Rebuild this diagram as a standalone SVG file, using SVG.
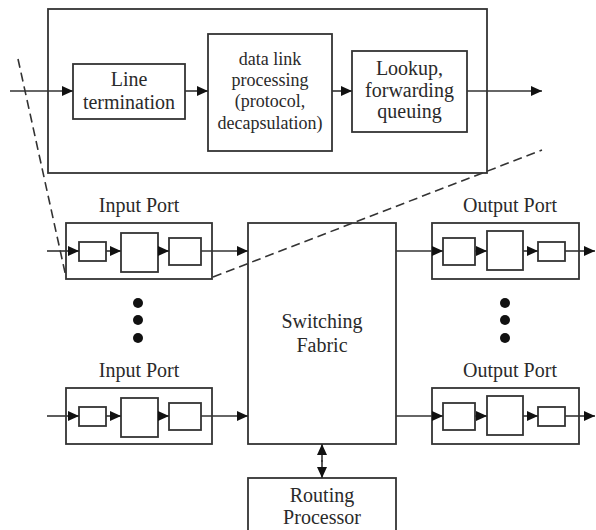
<svg xmlns="http://www.w3.org/2000/svg" width="596" height="530" viewBox="0 0 596 530">
<style>
.b{fill:#fff;stroke:#333;stroke-width:1.8}
.c{fill:none;stroke:#333;stroke-width:1.6}
.d{fill:none;stroke:#333;stroke-width:1.6;stroke-dasharray:9 5}
text{font-family:"Liberation Serif","Times New Roman",serif;font-size:20px;fill:#2a2a2a;text-anchor:middle}
.s{font-size:18px}
.dot{fill:#111}
</style>
<defs>
<marker id="ah" markerUnits="userSpaceOnUse" markerWidth="12" markerHeight="10" refX="11" refY="5" orient="auto">
<path d="M0,0 L11,5 L0,10 z" fill="#111"/>
</marker>
</defs>
<rect width="596" height="530" fill="#fff"/>

<g id="detail-box">
<rect class="b" x="48" y="9" width="439" height="164"/>
</g>
<g id="line-termination">
<rect class="b" x="73" y="64" width="112" height="55"/>
<text x="129" y="86">Line</text>
<text x="129" y="109">termination</text>
</g>
<g id="data-link">
<rect class="b" x="208" y="34" width="124" height="117"/>
<text class="s" x="270" y="65">data link</text>
<text class="s" x="270" y="86">processing</text>
<text class="s" x="270" y="107">(protocol,</text>
<text class="s" x="270" y="129">decapsulation)</text>
</g>
<g id="lookup">
<rect class="b" x="352" y="51" width="115" height="81"/>
<text x="409.5" y="75">Lookup,</text>
<text x="409.5" y="97">forwarding</text>
<text x="409.5" y="118">queuing</text>
</g>

<g id="input-port-1">
<text x="139" y="212">Input Port</text>
<rect class="b" x="66" y="223" width="146" height="56"/>
<rect class="b" x="79" y="242" width="27" height="19"/>
<rect class="b" x="121" y="233" width="37" height="39"/>
<rect class="b" x="169" y="238" width="32" height="27"/>
</g>
<g id="input-port-2">
<text x="139" y="377">Input Port</text>
<rect class="b" x="66" y="388" width="146" height="56"/>
<rect class="b" x="79" y="407" width="27" height="19"/>
<rect class="b" x="121" y="398" width="37" height="39"/>
<rect class="b" x="169" y="403" width="32" height="27"/>
</g>
<g id="output-port-1">
<text x="510" y="212">Output Port</text>
<rect class="b" x="432" y="223" width="147" height="56"/>
<rect class="b" x="443" y="238" width="32" height="27"/>
<rect class="b" x="487" y="231" width="36" height="39"/>
<rect class="b" x="538" y="242" width="27" height="19"/>
</g>
<g id="output-port-2">
<text x="510" y="377">Output Port</text>
<rect class="b" x="432" y="388" width="147" height="56"/>
<rect class="b" x="443" y="403" width="32" height="27"/>
<rect class="b" x="487" y="396" width="36" height="39"/>
<rect class="b" x="538" y="407" width="27" height="19"/>
</g>
<g id="switching-fabric">
<rect class="b" x="248" y="223" width="148" height="221"/>
<text x="322" y="328">Switching</text>
<text x="322" y="352">Fabric</text>
</g>
<g id="routing-processor">
<rect class="b" x="248" y="478" width="148" height="60"/>
<text x="322" y="502">Routing</text>
<text x="322" y="524">Processor</text>
</g>
<g id="ellipsis">
<circle class="dot" cx="138" cy="303" r="5"/>
<circle class="dot" cx="138" cy="320" r="5"/>
<circle class="dot" cx="138" cy="338" r="5"/>
<circle class="dot" cx="505" cy="303" r="5"/>
<circle class="dot" cx="505" cy="320" r="5"/>
<circle class="dot" cx="505" cy="338" r="5"/>
</g>

<g id="connectors">
<line class="c" x1="10" y1="91" x2="73" y2="91" marker-end="url(#ah)"/>
<line class="c" x1="185" y1="91" x2="208" y2="91" marker-end="url(#ah)"/>
<line class="c" x1="332" y1="91" x2="352" y2="91" marker-end="url(#ah)"/>
<line class="c" x1="467" y1="91" x2="542" y2="91" marker-end="url(#ah)"/>

<line class="c" x1="47" y1="251" x2="79" y2="251" marker-end="url(#ah)"/>
<line class="c" x1="106" y1="251" x2="121" y2="251" marker-end="url(#ah)"/>
<line class="c" x1="158" y1="251" x2="169" y2="251" marker-end="url(#ah)"/>
<line class="c" x1="201" y1="251" x2="248" y2="251" marker-end="url(#ah)"/>

<line class="c" x1="47" y1="416" x2="79" y2="416" marker-end="url(#ah)"/>
<line class="c" x1="106" y1="416" x2="121" y2="416" marker-end="url(#ah)"/>
<line class="c" x1="158" y1="416" x2="169" y2="416" marker-end="url(#ah)"/>
<line class="c" x1="201" y1="416" x2="248" y2="416" marker-end="url(#ah)"/>

<line class="c" x1="396" y1="251" x2="443" y2="251" marker-end="url(#ah)"/>
<line class="c" x1="475" y1="251" x2="487" y2="251" marker-end="url(#ah)"/>
<line class="c" x1="523" y1="251" x2="538" y2="251" marker-end="url(#ah)"/>
<line class="c" x1="565" y1="251" x2="595" y2="251" marker-end="url(#ah)"/>

<line class="c" x1="396" y1="416" x2="443" y2="416" marker-end="url(#ah)"/>
<line class="c" x1="475" y1="416" x2="487" y2="416" marker-end="url(#ah)"/>
<line class="c" x1="523" y1="416" x2="538" y2="416" marker-end="url(#ah)"/>
<line class="c" x1="565" y1="416" x2="595" y2="416" marker-end="url(#ah)"/>

<line class="c" x1="322" y1="460" x2="322" y2="478" marker-end="url(#ah)"/>
<line class="c" x1="322" y1="462" x2="322" y2="444" marker-end="url(#ah)"/>

<line class="d" x1="18" y1="59" x2="66" y2="277"/>
<line class="d" x1="213" y1="277" x2="542" y2="150"/>
</g>
</svg>
